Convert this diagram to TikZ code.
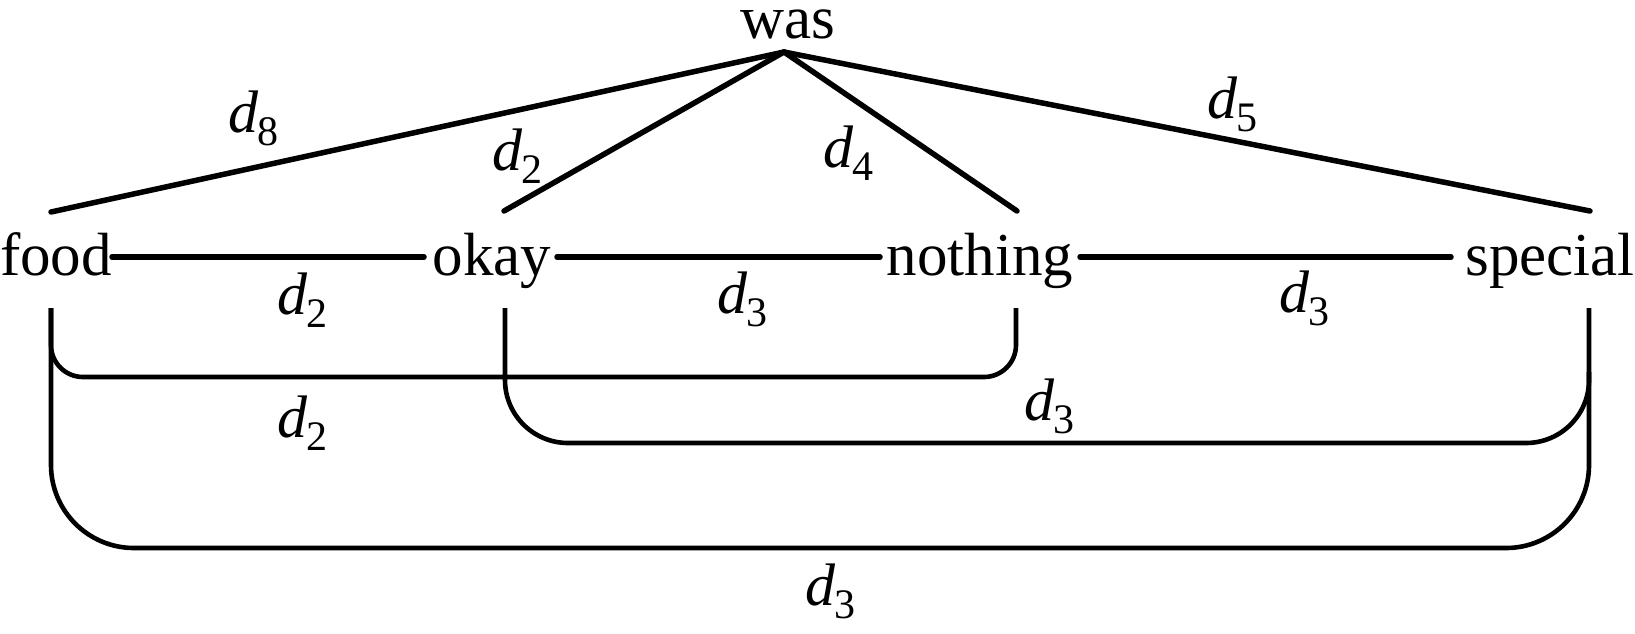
\documentclass[tikz,border=0pt]{standalone}
\usepackage{fontspec}
\setmainfont{Liberation Serif}
\newfontfamily\timesfont{Liberation Serif}
\newcommand\dlab[1]{\textit{d}\kern-1pt\raisebox{-13pt}{\fontsize{42}{42}\selectfont #1}}
\begin{document}
\begin{tikzpicture}[x=1pt,y=-1pt,
  word/.style={font=\timesfont\fontsize{61}{72}\selectfont, inner sep=0pt, anchor=base},
  lab/.style={font=\timesfont\fontsize{60}{72}\selectfont, inner sep=0pt, anchor=base west},
  edge/.style={line width=5.5pt, line cap=round},
  arcline/.style={line width=4.6pt}]
\useasboundingbox (0,0) rectangle (1635,633);
% words
\node[word] (was) at (788,38) {was};
\node[word] (food) at (56,275) {food};
\node[word] (okay) at (492,275) {okay};
\node[word] (nothing) at (980,275) {nothing};
\node[word] (special) at (1550,275) {special};
% connector end points
\coordinate (apex) at (784,52);
\coordinate (foodT) at (51,212);
\coordinate (okayT) at (504,211);
\coordinate (nothingT) at (1017,211);
\coordinate (specialT) at (1590,211);
\coordinate (foodE) at (112,257);
\coordinate (okayW) at (424,257);
\coordinate (okayE) at (557,257);
\coordinate (nothingW) at (880,257);
\coordinate (nothingE) at (1080,257);
\coordinate (specialW) at (1451,257);
\coordinate (foodB) at (51,308);
\coordinate (okayB) at (505,308);
\coordinate (nothingB) at (1016,308);
\coordinate (specialB) at (1589,308);
% tree edges
\draw[edge] (apex) -- (foodT);
\draw[edge] (apex) -- (okayT);
\draw[edge] (apex) -- (nothingT);
\draw[edge] (apex) -- (specialT);
% chain edges
\draw[edge] (foodE) -- (okayW);
\draw[edge] (okayE) -- (nothingW);
\draw[edge] (nothingE) -- (specialW);
% brackets
\draw[arcline, rounded corners=32pt] (foodB) -- (51,377) -- (1016,377) -- (nothingB);
\draw[arcline, rounded corners=63pt] (okayB) -- (505,443) -- (1589,443) -- (1589,372);
\draw[arcline, rounded corners=83pt] (foodB) -- (51,548) -- (1589,548) -- (specialB);
% labels
\node[lab] (l8) at (228,132) {\dlab{8}};
\node[lab] (l2a) at (492,170) {\dlab{2}};
\node[lab] (l4) at (823,167) {\dlab{4}};
\node[lab] (l5) at (1207,118) {\dlab{5}};
\node[lab] (l2b) at (277,314) {\dlab{2}};
\node[lab] (l3a) at (717,313) {\dlab{3}};
\node[lab] (l3b) at (1279,312) {\dlab{3}};
\node[lab] (l2c) at (277,437) {\dlab{2}};
\node[lab] (l3c) at (1024,420) {\dlab{3}};
\node[lab] (l3d) at (805,605) {\dlab{3}};
\end{tikzpicture}
\end{document}
